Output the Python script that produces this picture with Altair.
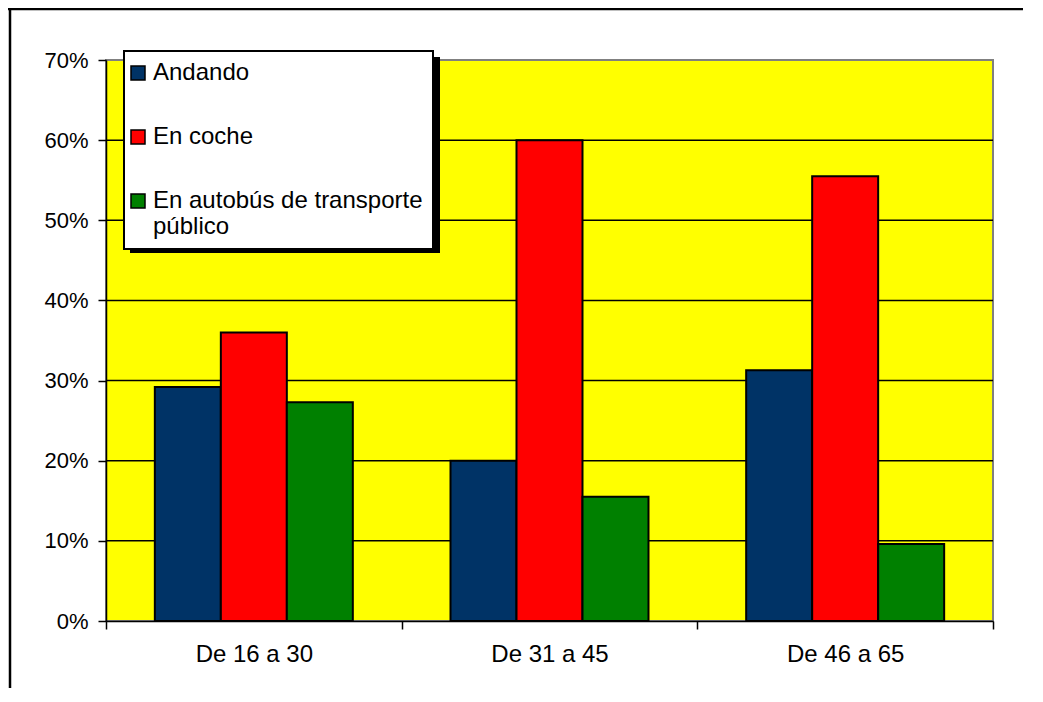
import altair as alt
import pandas as pd

groups = ["De 16 a 30", "De 31 a 45", "De 46 a 65"]
series = ["Andando", "En coche", "En autobús de transporte público"]
andando = [0.292, 0.200, 0.313]
coche = [0.360, 0.600, 0.555]
autobus = [0.273, 0.155, 0.096]
colors = ["#003366", "#FF0000", "#008000"]
y_ticks = [0, 0.1, 0.2, 0.3, 0.4, 0.5, 0.6, 0.7]
grid_lines = [0.1, 0.2, 0.3, 0.4, 0.5, 0.6]

rows = []
for name, vals in zip(series, [andando, coche, autobus]):
    for g, v in zip(groups, vals):
        rows.append({"grupo": g, "serie": name, "valor": v})
df = pd.DataFrame(rows)

FONT = "Liberation Sans"

yscale = alt.Scale(domain=[0, 0.7], nice=False)

grid = alt.Chart(pd.DataFrame({"valor": grid_lines})).mark_rule(
    color="black", strokeWidth=1.5
).encode(y=alt.Y("valor:Q", scale=yscale))

bars = alt.Chart(df).mark_bar(stroke="black", strokeWidth=2).encode(
    x=alt.X("grupo:N", sort=groups, title=None,
            scale=alt.Scale(paddingInner=0, paddingOuter=0),
            axis=alt.Axis(labelAngle=0, tickBand="extent", labelPadding=13,
                          labelFontSize=24, grid=False)),
    xOffset=alt.XOffset("serie:N", sort=series,
                        scale=alt.Scale(paddingInner=0, paddingOuter=0.74)),
    y=alt.Y("valor:Q", title=None, scale=yscale,
            axis=alt.Axis(format="%", values=y_ticks, grid=False, labelPadding=10)),
    color=alt.Color("serie:N", sort=series, title=None,
                    scale=alt.Scale(domain=series, range=colors),
                    legend=alt.Legend(
                        orient="none", legendX=18, legendY=-9,
                        labelExpr="datum.label == 'En autobús de transporte público' ? ['En autobús de transporte', 'público'] : datum.label",
                    )),
)

deco = pd.DataFrame({"k": [0]})
top_line = alt.Chart(deco).mark_rule(color="black", strokeWidth=2.5).encode(
    x=alt.value(-98), x2=alt.value(930), y=alt.value(-51))
left_line = alt.Chart(deco).mark_rule(color="black", strokeWidth=2.5).encode(
    x=alt.value(-96), y=alt.value(-52), y2=alt.value(640))
shadow = alt.Chart(deco).mark_rect(color="black").encode(
    x=alt.value(24), x2=alt.value(334), y=alt.value(-3), y2=alt.value(193))

chart = alt.layer(grid, bars, top_line, left_line, shadow).properties(
    width=887, height=561,
    autosize=alt.AutoSizeParams(type="none"),
    padding={"left": 98, "top": 52, "right": 30, "bottom": 67},
    background="white",
).configure_view(
    fill="#FFFF00", stroke="#808080", strokeWidth=2
).configure_axis(
    domainColor="black", domainWidth=1.5, tickColor="black", tickWidth=1.5,
    tickSize=8, labelFont=FONT, labelFontSize=22, labelColor="black",
).configure_legend(
    fillColor="white", strokeColor="black", strokeWidth=2, padding=10,
    labelFont=FONT, labelFontSize=24, labelColor="black", labelLimit=400,
    labelOffset=3, symbolOffset=-8, symbolType="square", symbolSize=196,
    symbolStrokeColor="black", symbolStrokeWidth=1.5, symbolOpacity=1,
    rowPadding=40,
)

chart.save("out.html", embed_options={"renderer": "svg", "actions": False})
